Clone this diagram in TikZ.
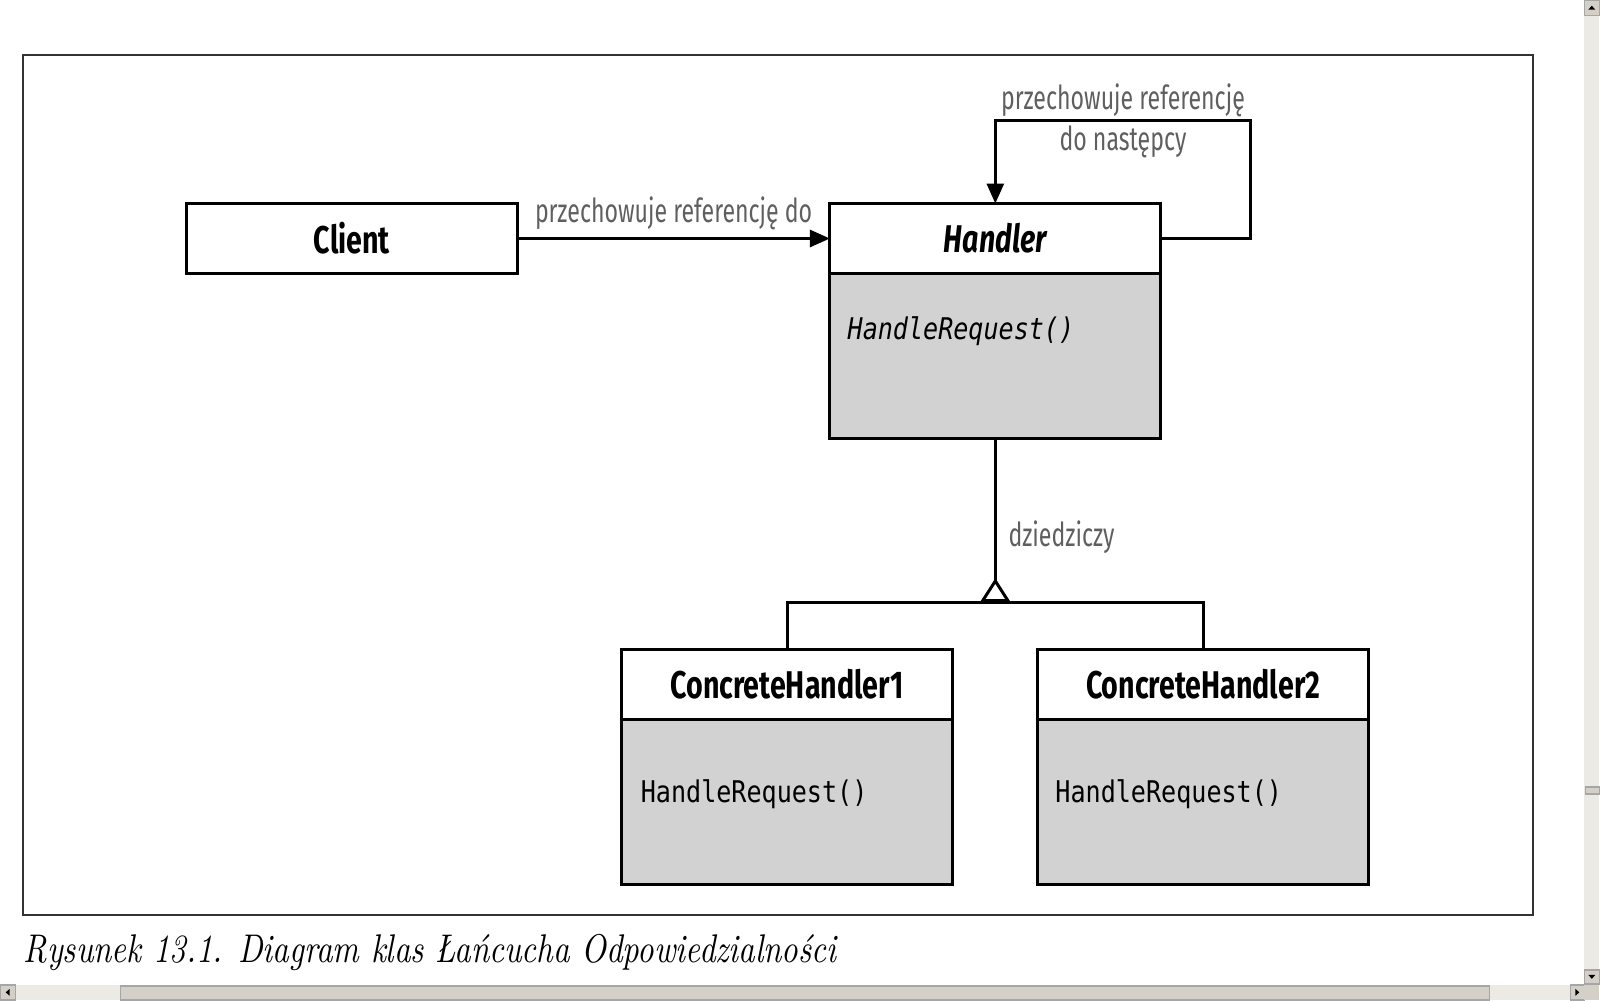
\documentclass[tikz,border=0pt]{standalone}
\usepackage{fontspec}
\usetikzlibrary{positioning,arrows.meta}
\newfontfamily\umlfont{Fira Sans}[FakeStretch=0.7]
\newfontfamily\umlboldfont{Fira Sans}[FakeStretch=0.74]
\newfontfamily\codefont{DejaVu Sans Mono}[FakeStretch=0.84]
\newfontfamily\capfont{lmroman10}[Extension=.otf,UprightFont=*-regular,ItalicFont=*-italic,FakeStretch=0.81]
\definecolor{boxgray}{RGB}{210,210,210}
\definecolor{lblgray}{RGB}{95,95,95}
\definecolor{barface}{RGB}{212,208,200}
\definecolor{bartrack}{RGB}{236,234,229}

\begin{document}
\begin{tikzpicture}[x=0.01cm,y=-0.01cm,
    cls/.style={draw,line width=0.03cm,minimum width=3.31cm,minimum height=0.70cm,inner sep=0pt,outer sep=0pt,
        font=\umlboldfont\fontsize{11}{13}\selectfont\bfseries},
    ops/.style={draw,fill=boxgray,line width=0.03cm,minimum width=3.31cm,minimum height=1.65cm,inner sep=0pt,outer sep=0pt},
    meth/.style={anchor=west,inner sep=0pt,font=\codefont\fontsize{8.5}{10}\selectfont},
    lbl/.style={text=lblgray,font=\umlfont\fontsize{9.4}{11}\selectfont},
    ln/.style={line width=0.03cm},
    ref/.style={ln,-{Triangle[length=0.2cm,width=0.17cm]}},
    btn/.style={fill=barface,draw=gray!70}]
    % frame and caption
    \draw [line width=0.02cm,black!80] (22,54) rectangle (1534,915);
    \node [anchor=base west,inner sep=0pt,font=\capfont\itshape\fontsize{11.4}{13}\selectfont] (caption) at (22,963)
        {Rysunek 13.1. Diagram klas Łańcucha Odpowiedzialności};

    % classes
    \node [cls] (client) at (351.5,238) {Client};
    \node [cls] (hdr) at (995.5,238) {\itshape Handler};
    \node [ops,below=0pt of hdr] (hops) {};
    \node [meth] (hmeth) at (847,331) {\itshape HandleRequest()};

    \node [cls] (ch1hdr) at (787,684) {ConcreteHandler1};
    \node [ops,below=0pt of ch1hdr] (ch1ops) {};
    \node [meth] (ch1meth) at (640,794) {HandleRequest()};

    \node [cls] (ch2hdr) at (1203.5,684) {ConcreteHandler2};
    \node [ops,below=0pt of ch2hdr] (ch2ops) {};
    \node [meth] (ch2meth) at (1055,794) {HandleRequest()};

    % references
    \draw [ref] (client) -- node[lbl,above,inner sep=2pt]{przechowuje referencję do} (hdr);
    \coordinate (loop) at (1251,120);
    \draw [ref] (hdr.east) -| (loop) -| node[lbl,pos=0.25,above,inner sep=0.5pt]{przechowuje referencję}
        node[lbl,pos=0.25,below,inner sep=1pt]{do następcy} (hdr.north);

    % inheritance
    \coordinate (fork) at (995.5,602);
    \draw [ln] (ch1hdr.north) |- (fork) -| (ch2hdr.north);
    \draw [ln,-{Triangle[open,reversed,length=0.24cm,width=0.3cm]}] (hops.south) -- node[lbl,pos=0.6,right]{dziedziczy} (fork);

    % scroll bars
    \fill [bartrack] (0,985) rectangle (1585,1000);
    \fill [bartrack] (1585,0) rectangle (1600,985);
    \draw [btn] (120,986) rectangle (1490,1000);
    \draw [btn] (1586,787) rectangle (1600,794);
    \draw [btn] (0,985) rectangle (15,1000);
    \draw [btn] (1571,985) rectangle (1585,1000);
    \draw [btn] (1585,0) rectangle (1600,15);
    \draw [btn] (1585,970) rectangle (1600,984);
    \fill [barface] (1585,985) rectangle (1600,1000);
    \fill (5,992.5) -- (9,989) -- (9,996) -- cycle;
    \fill (1580,992.5) -- (1576,989) -- (1576,996) -- cycle;
    \fill (1592.5,5) -- (1589,9) -- (1596,9) -- cycle;
    \fill (1592.5,979) -- (1589,975) -- (1596,975) -- cycle;
\end{tikzpicture}
\end{document}
